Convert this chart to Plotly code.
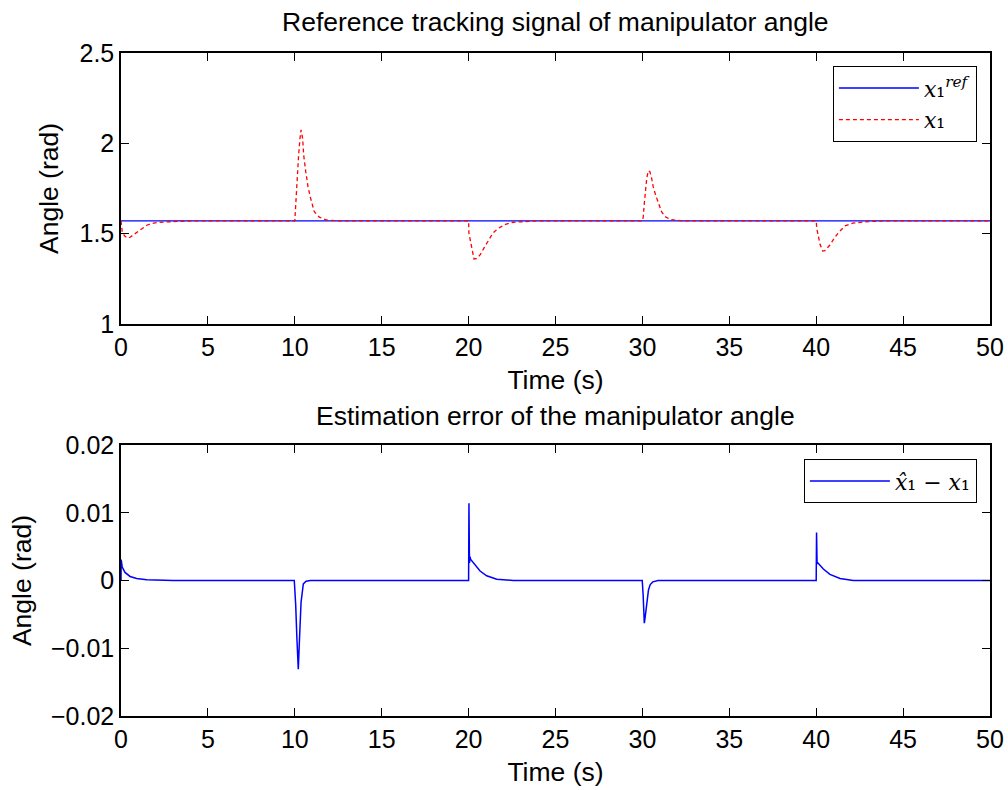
import plotly.graph_objects as go
from plotly.subplots import make_subplots

# ---------------- data ----------------
t_ref = [0, 50]
x1_ref = [1.5708, 1.5708]

t_x1 = [0.0, 0.07, 0.20, 0.36, 0.52, 0.71, 0.90, 1.09, 1.30, 1.51, 1.73, 1.96, 2.43, 3.2, 4.0,
        10.0, 10.07, 10.14, 10.22, 10.30, 10.36, 10.45, 10.51, 10.63, 10.76, 10.91, 11.12, 11.41, 11.84, 12.5,
        20.0, 20.02, 20.12, 20.18, 20.31, 20.45, 20.66, 20.90, 21.13, 21.39, 21.71, 22.13, 22.57, 23.05, 24.0,
        30.0, 30.05, 30.11, 30.17, 30.25, 30.34, 30.43, 30.53, 30.62, 30.76, 30.91, 31.10, 31.30, 31.62, 32.3,
        40.0, 40.03, 40.12, 40.22, 40.37, 40.50, 40.79, 41.04, 41.33, 41.66, 42.10, 42.48, 43.00, 44.0, 50.0]
x1_val = [1.5708, 1.511, 1.488, 1.475, 1.480, 1.493, 1.507, 1.520, 1.535, 1.548, 1.555, 1.560, 1.564, 1.569, 1.5708,
          1.5708, 1.696, 1.825, 1.936, 2.028, 2.074, 2.028, 1.936, 1.843, 1.760, 1.696, 1.622, 1.591, 1.575, 1.5708,
          1.5708, 1.502, 1.456, 1.410, 1.360, 1.362, 1.382, 1.423, 1.461, 1.502, 1.530, 1.552, 1.563, 1.567, 1.5708,
          1.5708, 1.594, 1.668, 1.742, 1.807, 1.848, 1.843, 1.807, 1.760, 1.714, 1.668, 1.622, 1.594, 1.578, 1.5708,
          1.5708, 1.530, 1.483, 1.441, 1.404, 1.406, 1.437, 1.475, 1.511, 1.543, 1.558, 1.563, 1.567, 1.5708, 1.5708]

t_err = [0.0, 0.01, 0.07, 0.23, 0.52, 0.90, 1.48, 2.24, 3.0,
         9.97, 10.05, 10.12, 10.20, 10.28, 10.36, 10.49, 10.65, 10.9,
         20.0, 20.02, 20.05, 20.08, 20.12, 20.27, 20.45, 20.66, 21.04, 21.62, 22.57,
         29.99, 30.04, 30.08, 30.11, 30.15, 30.25, 30.35, 30.45, 30.60, 30.90,
         40.0, 40.02, 40.05, 40.10, 40.41, 40.79, 41.37, 42.13, 50.0]
err_val = [0.0, 0.0031, 0.0020, 0.0012, 0.0006, 0.0003, 0.0001, 0.0, 0.0,
           0.0, -0.0035, -0.0085, -0.0131, -0.0080, -0.0032, -0.0005, -0.0001, 0.0,
           0.0, 0.0114, 0.0026, 0.0035, 0.0031, 0.0026, 0.0020, 0.0014, 0.0007, 0.0002, 0.0,
           0.0, -0.0020, -0.0050, -0.0063, -0.0056, -0.0032, -0.0014, -0.0006, -0.0002, 0.0,
           0.0, 0.0071, 0.0025, 0.0026, 0.0017, 0.0009, 0.0003, 0.0, 0.0]

x_ticks = [0, 5, 10, 15, 20, 25, 30, 35, 40, 45, 50]
y1_ticks = [1, 1.5, 2, 2.5]
y1_labels = ["1", "1.5", "2", "2.5"]
y2_ticks = [-0.02, -0.01, 0, 0.01, 0.02]
y2_labels = ["\u22120.02", "\u22120.01", "0", "0.01", "0.02"]

legend_names = ["<i>x</i>\u2081<sup><i>ref</i></sup>",
                "<i>x</i>\u2081",
                "<i>x\u0302</i>\u2081 \u2212 <i>x</i>\u2081"]

# ---------------- figure ----------------
FONT = "Liberation Sans, Arial, Helvetica, sans-serif"
SERIF = "DejaVu Serif, Liberation Serif, serif"
FS_TICK = 25
FS_LAB = 26.5

fig = make_subplots(rows=2, cols=1, vertical_spacing=0.0)

fig.add_trace(go.Scatter(x=t_ref, y=x1_ref, mode="lines",
                         line=dict(color="#0000ff", width=1.3),
                         name=legend_names[0], legend="legend"), row=1, col=1)
fig.add_trace(go.Scatter(x=t_x1, y=x1_val, mode="lines",
                         line=dict(color="#ff0000", width=1.3, dash="4px,3px"),
                         name=legend_names[1], legend="legend"), row=1, col=1)
fig.add_trace(go.Scatter(x=t_err, y=err_val, mode="lines",
                         line=dict(color="#0000ff", width=1.5),
                         name=legend_names[2], legend="legend2"), row=2, col=1)

axis_common = dict(showline=True, linecolor="black", linewidth=1.5, mirror="ticks",
                   ticks="inside", ticklen=8, tickwidth=1.2, tickcolor="black",
                   showgrid=False, zeroline=False, automargin=False,
                   tickfont=dict(family=FONT, size=FS_TICK, color="black"))

fig.update_xaxes(range=[0, 50], tickvals=x_ticks, ticklabeloverflow="allow",
                 title=dict(text="Time (s)", font=dict(family=FONT, size=FS_LAB, color="black"), standoff=11),
                 **axis_common)
fig.update_yaxes(range=[1, 2.5], tickvals=y1_ticks, ticktext=y1_labels,
                 title=dict(text="Angle (rad)", font=dict(family=FONT, size=FS_LAB, color="black"), standoff=13),
                 row=1, col=1, **axis_common)
fig.update_yaxes(range=[-0.02, 0.02], tickvals=y2_ticks, ticktext=y2_labels,
                 title=dict(text="Angle (rad)", font=dict(family=FONT, size=FS_LAB, color="black"), standoff=12),
                 row=2, col=1, **axis_common)

fig.update_layout(
    xaxis=dict(domain=[0, 1]), xaxis2=dict(domain=[0, 1]),
    yaxis=dict(domain=[0.5913, 1.0]), yaxis2=dict(domain=[0.0, 0.4087]),
)

fig.update_layout(
    width=1008, height=790,
    margin=dict(l=121, r=18, t=53, b=74, autoexpand=False),
    paper_bgcolor="white", plot_bgcolor="white",
    font=dict(family=FONT, size=FS_TICK, color="black"),
    legend=dict(x=0.9847, y=0.9804, xanchor="right", yanchor="top",
                bordercolor="black", borderwidth=1.2, bgcolor="white",
                font=dict(family=SERIF, size=22, color="black"),
                itemwidth=80, tracegroupgap=0),
    legend2=dict(x=0.9847, y=0.3876, xanchor="right", yanchor="top",
                 bordercolor="black", borderwidth=1.2, bgcolor="white",
                 font=dict(family=SERIF, size=22, color="black"),
                 itemwidth=80),
    annotations=[
        dict(text="Reference tracking signal of manipulator angle", x=0.5, y=1.0468,
             xref="paper", yref="paper", xanchor="center", yanchor="middle", showarrow=False,
             font=dict(family=FONT, size=FS_LAB, color="black")),
        dict(text="Estimation error of the manipulator angle", x=0.5, y=0.4525,
             xref="paper", yref="paper", xanchor="center", yanchor="middle", showarrow=False,
             font=dict(family=FONT, size=FS_LAB, color="black")),
    ],
)

# remove the browser's default 8px page margin so the 1008x790 figure fills the window exactly
fig.write_html("out.html",
               config={"displayModeBar": False},
               post_script="document.body.style.margin='0';document.body.style.overflow='hidden';")
